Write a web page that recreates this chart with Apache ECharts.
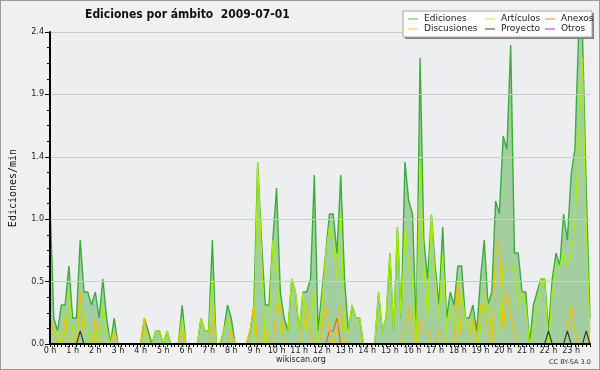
<!DOCTYPE html>
<html><head><meta charset="utf-8">
<script src="https://cdn.jsdelivr.net/npm/echarts@6/dist/echarts.min.js"></script>
<style>
html,body{margin:0;padding:0;background:#f0f0f0;}
#wrap{width:600px;height:370px;box-sizing:border-box;border:1px solid #9a9a9a;background:#f0f0f0;position:relative;}
#c{position:absolute;left:-1px;top:-1px;width:600px;height:370px;}
</style></head><body>
<div id="wrap"><div id="c"></div></div>
<script>
// Hour tick labels (one every 6 ten-minute steps)
const HOUR_LABELS = ['0 h','1 h','2 h','3 h','4 h','5 h','6 h','7 h','8 h','9 h','10 h','11 h','12 h','13 h','14 h','15 h','16 h','17 h','18 h','19 h','20 h','21 h','22 h','23 h'];
const Y_TICKS = [0, 0.48, 0.96, 1.44, 1.92, 2.4];

// Edits per minute, 10-minute steps (144 points)
const EDICIONES = [
1.1,0.2,0.1,0.3,0.3,0.6,0.2,0.2,0.8,0.4, 0.4,0.3,0.4,0.2,0.5,0.2,0,0.2,0,0,
0,0,0,0,0,0.2,0.1,0,0.1,0.1, 0,0.1,0,0,0,0.3,0,0,0,0,
0.2,0.1,0.1,0.8,0,0,0.1,0.3,0.2,0, 0,0,0,0.1,0.3,1.4,0.8,0.3,0.3,0.8,
1.2,0.4,0.2,0.1,0.5,0.4,0.1,0.4,0.4,0.5, 1.3,0.1,0.4,0.7,1.0,1.0,0.7,1.3,0.5,0.1,
0.3,0.2,0.2,0,0,0,0,0.4,0.1,0.2, 0.7,0.1,0.9,0.2,1.4,1.1,1.0,0.1,2.2,0.8,
0.5,1.0,0.6,0.3,0.9,0.2,0.4,0.3,0.6,0.6, 0.2,0.2,0.3,0.1,0.5,0.8,0.3,0.4,1.1,1.0,
1.6,1.5,2.3,0.7,0.7,0.4,0.4,0,0.3,0.4, 0.5,0.5,0.1,0.5,0.7,0.6,1.0,0.8,1.3,1.5,
2.4,2.4,1.2,0.2];
const ARTICULOS = [
0.1,0.1,0.1,0,0.1,0.4,0.1,0,0.3,0.2, 0.1,0,0.1,0,0.3,0.1,0,0.1,0,0,
0,0,0,0,0,0.1,0,0,0.1,0.1, 0,0.1,0,0,0,0.2,0,0,0,0,
0.2,0.1,0.1,0.5,0,0,0.1,0.2,0.1,0, 0,0,0,0,0,1.4,0.7,0,0.1,0.8,
0.6,0.1,0.1,0.1,0.5,0.4,0.1,0.4,0.1,0.2, 0.4,0,0.3,0.7,0.9,0.8,0.5,1.0,0.1,0.1,
0.3,0.2,0.2,0,0,0,0,0.4,0.1,0.2, 0.7,0.1,0.9,0.2,0.9,0.6,0.5,0,1.4,0.6,
0.2,1.0,0.5,0.2,0.7,0.1,0.3,0.2,0.1,0.4, 0.2,0.1,0.2,0,0.1,0.4,0.3,0.1,0.1,0.1,
0.6,0.6,0.6,0.6,0.3,0.4,0.3,0,0.1,0.3, 0.5,0.5,0,0.4,0.6,0.6,0.7,0.6,0.7,0.9,
1.6,2.2,0.9,0.1];
const ANEXOS = [
0,0,0,0,0,0,0,0,0,0, 0,0,0,0,0,0,0,0,0,0,
0,0,0,0,0,0,0,0,0,0, 0,0,0,0,0,0,0,0,0,0,
0,0,0,0,0,0,0,0,0,0, 0,0,0,0,0,0,0,0,0,0,
0,0,0,0,0,0,0,0,0,0, 0,0,0,0,0.1,0.1,0.2,0,0,0,
0,0,0,0,0,0,0,0,0,0, 0,0,0,0,0,0,0,0,0,0,
0,0,0,0,0,0,0,0,0,0, 0,0,0,0,0,0,0,0,0,0,
0,0,0,0,0,0,0,0,0,0, 0,0,0,0,0,0,0,0,0,0,
0,0,0,0];
const DISCUSIONES = [
0.2,0.1,0,0,0.2,0,0,0,0.4,0, 0,0,0.2,0,0,0,0,0.1,0,0,
0,0,0,0,0,0.2,0,0,0,0, 0,0,0,0,0,0.1,0,0,0,0,
0,0,0,0.2,0,0,0,0,0.1,0, 0,0,0,0.1,0.3,0,0,0.1,0,0,
0.3,0.3,0,0,0,0,0,0.1,0.3,0.1, 0,0,0.1,0.3,0.1,0,0.1,0.3,0,0,
0,0,0,0,0,0,0,0,0,0, 0,0,0,0,0.1,0.3,0.1,0,0.2,0.1,
0.1,0,0,0.1,0.1,0,0,0,0.5,0, 0,0,0.2,0,0.3,0.3,0.1,0,0.7,0.8,
0.1,0.4,0.2,0.1,0,0,0,0,0,0, 0,0,0,0,0,0,0,0.1,0.3,0.1,
0,0,0,0.1];
const PROYECTO = [
0,0,0,0,0,0,0,0,0.1,0, 0,0,0,0,0,0,0,0,0,0,
0,0,0,0,0,0,0,0,0,0, 0,0,0,0,0,0,0,0,0,0,
0,0,0,0,0,0,0,0,0,0, 0,0,0,0,0,0,0,0,0,0,
0,0,0,0,0,0,0,0,0,0, 0,0,0,0,0,0,0,0,0,0,
0,0,0,0,0,0,0,0,0,0, 0,0,0,0,0,0,0,0,0,0,
0,0,0,0,0,0,0,0,0,0, 0,0,0,0,0,0,0,0,0,0,
0,0,0,0,0,0,0,0,0,0, 0,0,0.1,0,0,0,0,0.1,0,0,
0,0,0.1,0];
const OTROS = [
0,0,0,0,0,0,0,0,0,0, 0,0,0,0,0,0,0,0,0,0,
0,0,0,0,0,0,0,0,0,0, 0,0,0,0,0,0,0,0,0,0,
0,0,0,0,0,0,0,0,0,0, 0,0,0,0,0,0,0,0,0,0,
0,0,0,0,0,0,0,0,0,0, 0,0,0,0,0,0,0,0,0,0,
0,0,0,0,0,0,0,0,0,0, 0,0,0,0,0,0,0,0,0,0,
0,0,0,0,0,0,0,0,0,0, 0,0,0,0,0,0,0,0,0,0,
0,0,0,0,0,0,0,0,0,0, 0,0,0,0,0,0,0,0,0,0,
0,0,0,0];

const categories = EDICIONES.map((_, i) => HOUR_LABELS[Math.floor(i / 6)] + ':' + (i % 6));
const FONT = "'DejaVu Sans'";

function lineSeries(name, data, color, width, extra) {
  return Object.assign({
    name, type: 'line', data, showSymbol: false, symbol: 'none',
    lineStyle: { color, width }, itemStyle: { color }, animation: false
  }, extra || {});
}

const chart = echarts.init(document.getElementById('c'), null, { renderer: 'canvas' });
const legendBase = {
  orient: 'vertical', top: 14, itemWidth: 10, itemHeight: 1, itemGap: 0, z: 95,
  icon: 'rect', padding: 0, selectedMode: false,
  textStyle: { fontSize: 9, fontFamily: FONT, color: '#222', lineHeight: 10, padding: [0, 0, 0, 1] }
};
chart.setOption({
  animation: false,
  backgroundColor: 'transparent',
  title: {
    text: 'Ediciones por ámbito  2009-07-01', left: 85, top: 9, padding: 0,
    textStyle: { fontSize: 12, fontWeight: 'bold', fontFamily: "'DejaVu Sans Condensed', 'DejaVu Sans'", color: '#111' }
  },
  legend: [
    Object.assign({}, legendBase, { left: 408, data: [
      { name: 'Ediciones', itemStyle: { color: '#55c055' } },
      { name: 'Discusiones', itemStyle: { color: '#ffc830' } }] }),
    Object.assign({}, legendBase, { left: 485, data: [
      { name: 'Artículos', itemStyle: { color: '#bbee22' } },
      { name: 'Proyecto', itemStyle: { color: '#444444' } }] }),
    Object.assign({}, legendBase, { left: 545, data: [
      { name: 'Anexos', itemStyle: { color: '#ff7a33' } },
      { name: 'Otros', itemStyle: { color: '#9933ff' } }] })
  ],
  grid: { left: 46, right: 10, top: 32, bottom: 26, show: true, backgroundColor: '#eceef0', borderWidth: 0 },
  xAxis: {
    type: 'category', data: categories, boundaryGap: false, z: 10,
    axisLine: { lineStyle: { color: '#000', width: 2 } },
    axisTick: { interval: 0, length: 3, lineStyle: { color: '#000', width: 1 } },
    axisLabel: {
      interval: 5, margin: 3, fontSize: 8, fontFamily: FONT, color: '#222',
      formatter: (v, i) => HOUR_LABELS[Math.floor(i / 6)]
    },
    splitLine: { show: false }
  },
  yAxis: {
    type: 'value', min: Y_TICKS[0], max: Y_TICKS[Y_TICKS.length - 1], interval: Y_TICKS[1], z: 10,
    name: 'Ediciones/min', nameLocation: 'middle', nameGap: 32, nameRotate: 90,
    nameTextStyle: { fontSize: 10, fontFamily: "'DejaVu Sans Mono'", color: '#111' },
    axisLine: { show: true, lineStyle: { color: '#000', width: 2 } },
    axisTick: { show: true, length: 5, lineStyle: { color: '#000', width: 1 } },
    minorTick: { show: true, splitNumber: 4, length: 3, lineStyle: { color: '#000', width: 1 } },
    axisLabel: { margin: 6, fontSize: 8, fontFamily: FONT, color: '#222', formatter: v => v.toFixed(1) },
    splitLine: { show: true, lineStyle: { color: '#cccccc', width: 1 } }
  },
  graphic: [
    { type: 'rect', shape: { x: 405, y: 13, width: 189, height: 26 }, style: { fill: '#808080' }, z: 90 },
    { type: 'rect', shape: { x: 403, y: 11, width: 189, height: 26 }, style: { fill: '#fdfdfd', stroke: '#a8a8a8', lineWidth: 1 }, z: 91 },
    { type: 'text', left: 276, top: 356, style: { text: 'wikiscan.org', font: "8px 'DejaVu Sans'", fill: '#222' }, z: 100 },
    { type: 'text', left: 549, top: 359, style: { text: 'CC BY-SA 3.0', font: "6.5px 'DejaVu Sans'", fill: '#333' }, z: 100 }
  ],
  series: [
    lineSeries('Ediciones', EDICIONES, '#3aae3a', 1.4, { areaStyle: { color: '#a2cea0', opacity: 1 }, z: 2 }),
    lineSeries('Artículos', ARTICULOS, '#aaee00', 1.2, { z: 3 }),
    lineSeries('Anexos', ANEXOS, '#ee6622', 1.2, { z: 3 }),
    lineSeries('Discusiones', DISCUSIONES, '#f2c200', 1.2, { z: 3 }),
    lineSeries('Proyecto', PROYECTO, '#3a3a3a', 1.2, { z: 3 }),
    lineSeries('Otros', OTROS, '#9933ff', 1.2, { z: 3 })
  ]
});
</script>
</body></html>
